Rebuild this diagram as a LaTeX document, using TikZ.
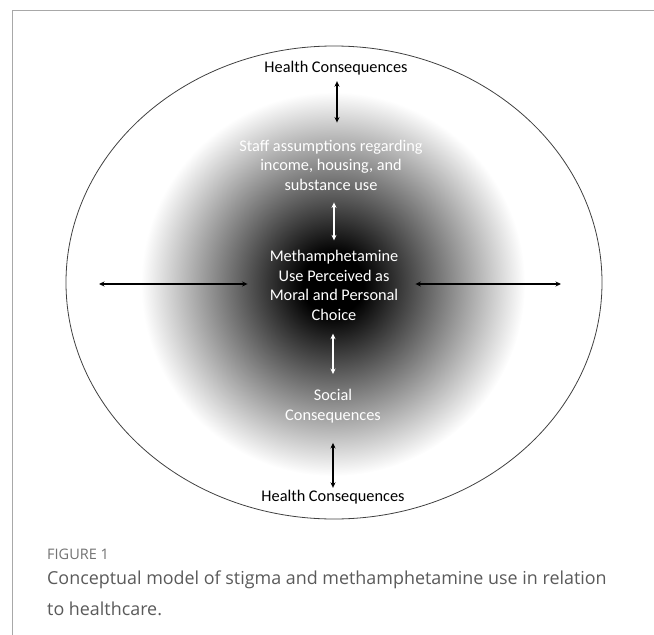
\documentclass[tikz,border=0pt]{standalone}
\usepackage{fontspec}
\setmainfont{Carlito}
\newfontfamily\capfont{Open Sans}
\usetikzlibrary{arrows.meta}
\pgfdeclareradialshading{glow}{\pgfpoint{0bp}{0bp}}{color(0bp)=(black); color(4bp)=(black); color(25bp)=(white); color(50bp)=(white)}
\definecolor{capgray}{HTML}{5A5A5A}
\definecolor{figgray}{HTML}{727272}
\definecolor{framegray}{HTML}{A8A8A8}
\tikzset{
  lbl/.style={inner sep=0pt, align=center, font=\fontsize{16.3}{19.5}\selectfont},
  wlbl/.style={lbl, text=white},
  biarrow/.style={line width=1.6pt, {Stealth[length=5.5pt,width=5pt]}-{Stealth[length=5.5pt,width=5pt]}},
  wbiarrow/.style={biarrow, white},
}
\begin{document}
\begin{tikzpicture}[x=1pt,y=-1pt]
\useasboundingbox (0,0) rectangle (654,635);
% frame
\draw[framegray, line width=1pt] (12,635) -- (12,10) -- (654,10);
% gradient
\shade[shading=glow] (333,284) circle[radius=192pt];
% outer ellipse
\draw[black!75, line width=0.8pt] (334,282.5) ellipse[x radius=268pt, y radius=236.5pt];
% labels
\node[lbl] (hctop) at (336,68) {Health Consequences};
\node[wlbl] (staff) at (331,165) {Staff assumptions regarding\\income, housing, and\\substance use};
\node[wlbl] (meth) at (334,285.5) {Methamphetamine\\Use Perceived as\\Moral and Personal\\Choice};
\node[wlbl] (social) at (333,406) {Social\\Consequences};
\node[lbl] (hcbot) at (333,497) {Health Consequences};
\coordinate (lend) at (99,284);
\coordinate (rend) at (561,284);
% arrows
\draw[biarrow, shorten <=6pt, shorten >=17pt] (hctop.south -| 337,0) -- (staff.north -| 337,0);
\draw[wbiarrow, shorten <=12pt, shorten >=10pt] (staff.south -| 334,0) -- (meth.north -| 334,0);
\draw[wbiarrow, shorten <=13pt, shorten >=15pt] (meth.south -| 333,0) -- (social.north -| 333,0);
\draw[biarrow, shorten <=20pt, shorten >=2pt] (social.south -| 333,0) -- (hcbot.north -| 333,0);
\draw[biarrow, shorten >=22pt] (lend) -- (meth.west |- lend);
\draw[biarrow, shorten <=17pt] (meth.east |- rend) -- (rend);
% caption
\node[anchor=base west, inner sep=0pt, text=figgray, font=\capfont\fontsize{14.5}{16}\selectfont] (fig) at (47,559) {FIGURE 1};
\node[anchor=base west, inner sep=0pt, text=capgray, align=left, font=\capfont\fontsize{17.9}{31}\selectfont] (cap) at (47,615) {Conceptual model of stigma and methamphetamine use in relation\\to healthcare.};
\end{tikzpicture}
\end{document}
